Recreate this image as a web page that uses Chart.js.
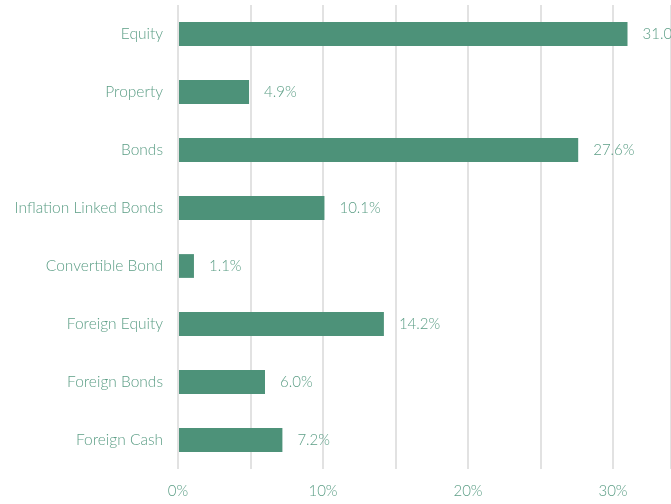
<!DOCTYPE html>
<html>
<head>
<meta charset="utf-8">
<script src="https://cdn.jsdelivr.net/npm/chart.js@4"></script>
<style>
  html, body { margin: 0; padding: 0; background: #fff; }
  #wrap { width: 671px; height: 504px; position: relative; }
</style>
</head>
<body>
<div id="wrap"><canvas id="chart"></canvas></div>
<script>
const categories = ['Equity', 'Property', 'Bonds', 'Inflation Linked Bonds', 'Convertible Bond',
  'Foreign Equity', 'Foreign Bonds', 'Foreign Cash'];
const allocation = [31.0, 4.9, 27.6, 10.1, 1.1, 14.2, 6.0, 7.2];
const xTicks = [0, 10, 20, 30];

const barColor = '#4d9279';
const textColor = '#5c9e86';
const font = { family: 'Lato', size: 15.5, weight: '300' };

// value labels to the right of each bar
const valueLabels = {
  id: 'valueLabels',
  afterDatasetsDraw(chart) {
    const { ctx } = chart;
    const meta = chart.getDatasetMeta(0);
    ctx.save();
    ctx.font = `${font.weight} 15px ${font.family}`;
    ctx.fillStyle = textColor;
    ctx.textBaseline = 'middle';
    ctx.textAlign = 'left';
    meta.data.forEach((bar, i) => {
      ctx.fillText(allocation[i].toFixed(1) + '%', bar.x + 15, bar.y);
    });
    ctx.restore();
  }
};

new Chart(document.getElementById('chart'), {
  type: 'bar',
  data: {
    labels: categories,
    datasets: [{
      data: allocation,
      backgroundColor: barColor,
      barPercentage: 0.41,
      categoryPercentage: 1
    }]
  },
  options: {
    indexAxis: 'y',
    responsive: true,
    maintainAspectRatio: false,
    animation: false,
    layout: { padding: { top: 5, right: 0, left: 0, bottom: 0 } },
    plugins: { legend: { display: false }, tooltip: { enabled: false } },
    scales: {
      x: {
        min: 0,
        max: 34,
        border: { display: false },
        grid: { color: '#e2e2e2', lineWidth: 2, drawTicks: false },
        ticks: {
          stepSize: 5,
          padding: 13,
          color: textColor,
          font: { ...font, size: 15 },
          callback: v => xTicks.includes(v) ? v + '%' : ''
        },
        afterFit(scale) {
          scale.height = 35;
          scale.paddingLeft = 0;
          scale.paddingRight = 0;
        }
      },
      y: {
        border: { display: false },
        grid: { display: false },
        ticks: { color: textColor, font, padding: 7 },
        afterFit(scale) {
          scale.width = 178;
          scale.paddingTop = 0;
          scale.paddingBottom = 0;
        }
      }
    }
  },
  plugins: [valueLabels]
});
</script>
</body>
</html>
